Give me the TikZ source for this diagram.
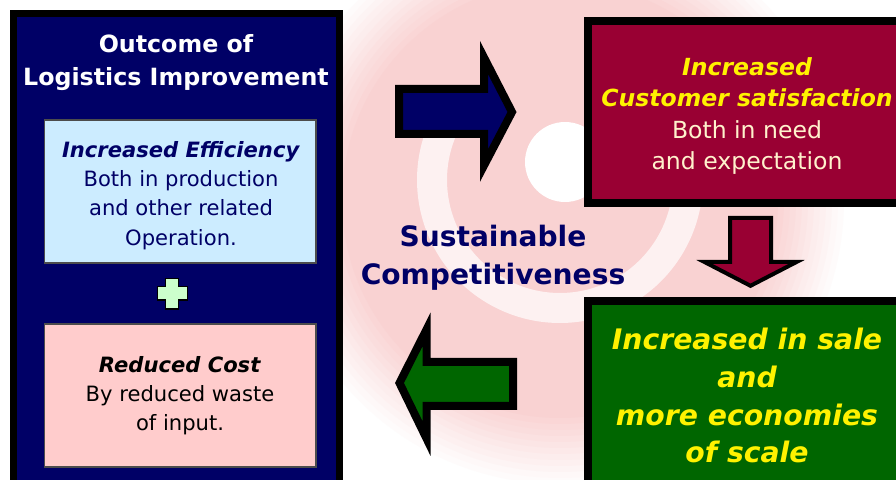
\documentclass[tikz,border=0pt]{standalone}
\usepackage{fontspec}
\setmainfont{DejaVu Sans}
\usetikzlibrary{calc}

\definecolor{navyblue}{HTML}{000066}
\definecolor{lightblue}{HTML}{CCECFF}
\definecolor{lightpink}{HTML}{FFCCCC}
\definecolor{lightgreen}{HTML}{CCFFCC}
\definecolor{wine}{HTML}{990033}
\definecolor{darkgreen}{HTML}{006600}
\definecolor{cream}{HTML}{FFF2CC}
\definecolor{swirlpink}{HTML}{F9D2D2}

\newcommand{\hilite}[1]{\textcolor{yellow}{\bfseries\itshape #1}}

\begin{document}
\begin{tikzpicture}[x=0.02cm, y=0.02cm,
    outerbox/.style={draw=black, line width=0.14cm, fill=navyblue, minimum width=6.52cm, minimum height=9.41cm, inner sep=0pt},
    itembox/.style={draw=black!70, line width=0.6pt, minimum width=5.44cm, minimum height=2.86cm, inner sep=0pt},
    itemtext/.style={align=center, font=\fontsize{12}{16.6}\selectfont},
    resultbox/.style={draw=black, line width=0.16cm, minimum width=6.36cm, inner sep=0pt, align=center},
    blockarrow/.style={draw=black, line width=0.16cm, line join=miter},
    plussign/.style={draw=black, line width=0.6pt, fill=lightgreen}]

    \useasboundingbox (0,0) rectangle (896,480);
    \clip (0,0) rectangle (896,480);
    \fill[white] (0,0) rectangle (896,480);

    % faint swirl behind the diagram
    \foreach \k in {0,...,12} {
        \pgfmathtruncatemacro\p{\k*100/12}
        \fill[swirlpink!\p!white] (560,280) circle ({0.02cm*(290-6*\k)});
    }
    \draw[white, opacity=0.7, line width=0.6cm] (560,300) ++(150:2.56cm) arc[start angle=150, end angle=370, radius=2.56cm];
    \fill[white] (565,318) circle (0.8cm);

    % left column
    \node[outerbox] (outcome) at (176.5,231.25) {};
    \node[text=white, font=\fontsize{13.5}{18.8}\selectfont\bfseries, align=center] (title) at (176,417) {Outcome of\\Logistics Improvement};
    \node[itembox, fill=lightblue] (efficiency) at (180,288.5) {};
    \node[itemtext, text=navyblue] (efficiencytext) at ($(efficiency)+(1,-4)$)
        {\textbf{\textit{Increased Efficiency}}\\Both in production\\and other related\\Operation.};
    \draw[plussign] (165.7,201.7) -- (178.3,201.7) -- (178.3,193.3) -- (187.3,193.3) -- (187.3,180) -- (178.3,180)
        -- (178.3,171) -- (165.7,171) -- (165.7,180) -- (157.3,180) -- (157.3,193.3) -- (165.7,193.3) -- cycle;% plus
    \node[itembox, fill=lightpink] (cost) at (180,84.5) {};
    \node[itemtext, text=black] (costtext) at (cost)
        {\textbf{\textit{Reduced Cost}}\\By reduced waste\\of input.};

    % right column
    \node[resultbox, fill=wine, minimum height=3.64cm] (satisfaction) at (747,368) {};
    \node[text=cream, align=center, font=\fontsize{13.4}{17.9}\selectfont] (satisfactiontext) at ($(satisfaction)+(0,-4)$)
        {\hilite{Increased}\\\hilite{Customer satisfaction}\\Both in need\\and expectation};
    \node[resultbox, fill=darkgreen, minimum height=3.78cm, text=yellow, font=\fontsize{16.1}{21.6}\selectfont\bfseries\itshape] (sale) at (747,84.5)
        {Increased in sale\\and\\more economies\\of scale};

    \node[text=navyblue, font=\fontsize{16}{21.6}\selectfont\bfseries, align=center] (competitive) at (493,222)
        {Sustainable\\Competitiveness};

    % block arrows
    \coordinate (BlueTip) at (512,368);
    \coordinate (WineTip) at (750.5,194.2);
    \coordinate (GreenTip) at (399.5,97);
    \draw[blockarrow, fill=navyblue] (399,391) -- (484,391) -- (484,422.5) -- (BlueTip) -- (484,314.5) -- (484,346) -- (399,346) -- cycle;
    \draw[blockarrow, fill=wine, line width=0.08cm] (730,262) -- (771,262) -- (771,218) -- (796.5,218) -- (WineTip) -- (704.5,218) -- (730,218) -- cycle;
    \draw[blockarrow, fill=darkgreen] (513,118) -- (426.5,118) -- (426.5,150.5) -- (GreenTip) -- (426.5,41.5) -- (426.5,74) -- (513,74) -- cycle;
\end{tikzpicture}
\end{document}
